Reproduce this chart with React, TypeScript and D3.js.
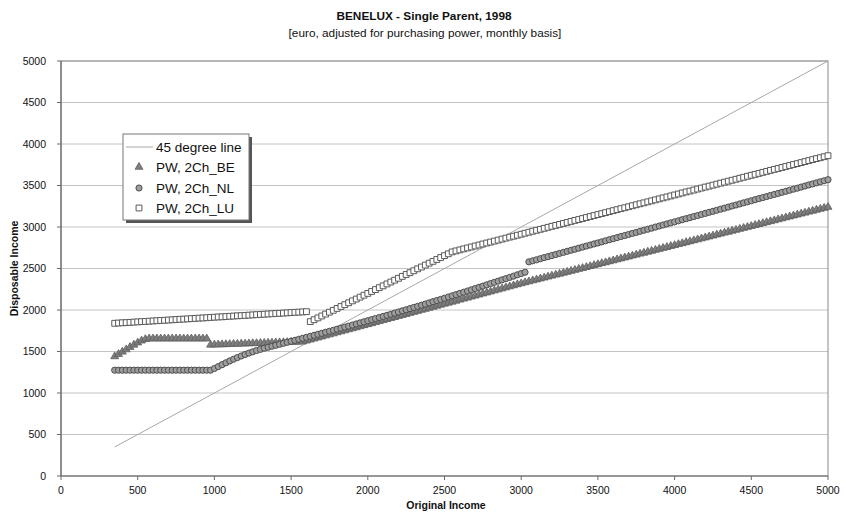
import React from "react";
import * as d3 from "d3";

// Original income grid (euro, monthly) – every 25 from 350 to 5000
const INCOME = d3.range(350, 5001, 25);

const BE = [
  1440, 1468, 1496, 1524, 1552, 1580, 1606, 1630, 1648,
  1655, 1655, 1655, 1655, 1655, 1655, 1655, 1655, 1655, 1655, 1655, 1655, 1655, 1655, 1655, 1655,
  1580, 1582, 1583, 1585, 1586, 1588, 1590, 1591, 1593, 1594, 1596, 1598, 1599, 1601, 1602, 1604, 1606, 1607, 1609, 1610, 1612, 1614, 1615, 1617, 1618,
  1630, 1642, 1655, 1667, 1679, 1692, 1704, 1716, 1729, 1741, 1753, 1766, 1778, 1790, 1802, 1815, 1827, 1839, 1852, 1864, 1876, 1889, 1901, 1913, 1926, 1938, 1950, 1963, 1975, 1987, 2000, 2012, 2024, 2037, 2049, 2061, 2074, 2086, 2098, 2110, 2123, 2135, 2147, 2160, 2172, 2184, 2197, 2209, 2221, 2234, 2246, 2258, 2271, 2283, 2295, 2308, 2320,
  2332, 2343, 2355, 2366, 2378, 2389, 2401, 2412, 2424, 2435, 2447, 2458, 2470, 2481, 2493, 2504, 2516, 2527, 2539, 2550, 2562, 2573, 2585, 2596, 2608, 2619, 2631, 2642, 2654, 2665, 2677, 2688, 2700, 2711, 2723, 2734, 2746, 2757, 2769, 2780, 2792, 2803, 2815, 2826, 2838, 2849, 2861, 2872, 2884, 2895, 2907, 2918, 2930, 2941, 2953, 2964, 2976, 2987, 2999, 3010, 3022, 3033, 3045, 3056, 3068, 3079, 3091, 3102, 3114, 3125, 3137, 3148, 3160, 3171, 3183, 3194, 3206, 3217, 3229, 3240,
];

const NL = [
  1275, 1275, 1275, 1275, 1275, 1275, 1275, 1275, 1275, 1275, 1275, 1275, 1275, 1275, 1275, 1275, 1275, 1275, 1275, 1275, 1275, 1275, 1275, 1275, 1275, 1275,
  1295, 1318, 1341, 1364, 1386, 1407, 1427, 1446, 1464, 1481, 1497, 1512, 1526, 1539, 1551, 1563, 1575, 1587, 1599, 1611, 1623, 1635, 1647, 1659, 1671,
  1683, 1695, 1707, 1719, 1732, 1744, 1756, 1769, 1781, 1794, 1806, 1819, 1832, 1845, 1858, 1871, 1884, 1897, 1910, 1923, 1936, 1949, 1963, 1976, 1990, 2003, 2017, 2031, 2044, 2058, 2072, 2086, 2100, 2114, 2128, 2142, 2157, 2171, 2185, 2200, 2214, 2229, 2243, 2258, 2273, 2288, 2303, 2318, 2333, 2348, 2363, 2378, 2393, 2408, 2424, 2439, 2455,
  2580, 2593, 2605, 2618, 2631, 2643, 2656, 2669, 2682, 2694, 2707, 2720, 2732, 2745, 2758, 2770, 2783, 2796, 2808, 2821, 2834, 2847, 2859, 2872, 2885, 2897, 2910, 2923, 2935, 2948, 2961, 2973, 2986, 2999, 3012, 3024, 3037, 3050, 3062, 3075, 3088, 3100, 3113, 3126, 3138, 3151, 3164, 3177, 3189, 3202, 3215, 3227, 3240, 3253, 3265, 3278, 3291, 3303, 3316, 3329, 3342, 3354, 3367, 3380, 3392, 3405, 3418, 3430, 3443, 3456, 3468, 3481, 3494, 3507, 3519, 3532, 3545, 3557, 3570,
];

const LU = [
  1840, 1843, 1846, 1848, 1851, 1854, 1857, 1860, 1862, 1865, 1868, 1871, 1874, 1876, 1879, 1882, 1885, 1888, 1890, 1893, 1896, 1899, 1902, 1904, 1907, 1910, 1913, 1916, 1918, 1921, 1924, 1927, 1930, 1932, 1935, 1938, 1941, 1944, 1946, 1949, 1952, 1955, 1958, 1960, 1963, 1966, 1969, 1972, 1974, 1977, 1980,
  1860, 1883, 1905, 1928, 1951, 1974, 1996, 2019, 2042, 2064, 2087, 2110, 2132, 2155, 2178, 2200, 2223, 2246, 2269, 2291, 2314, 2337, 2359, 2382, 2405, 2428, 2450, 2473, 2496, 2518, 2541, 2564, 2586, 2609, 2632, 2655, 2677, 2700,
  2712, 2724, 2736, 2748, 2759, 2771, 2783, 2795, 2807, 2818, 2830, 2842, 2854, 2866, 2878, 2889, 2901, 2913, 2925, 2937, 2949, 2960, 2972, 2984, 2996, 3008, 3019, 3031, 3043, 3055, 3067, 3079, 3090, 3102, 3114, 3126, 3138, 3150, 3161, 3173, 3185, 3197, 3209, 3221, 3232, 3244, 3256, 3268, 3280, 3291, 3303, 3315, 3327, 3339, 3351, 3362, 3374, 3386, 3398, 3410, 3422, 3433, 3445, 3457, 3469, 3481, 3492, 3504, 3516, 3528, 3540, 3552, 3563, 3575, 3587, 3599, 3611, 3623, 3634, 3646, 3658, 3670, 3682, 3694, 3705, 3717, 3729, 3741, 3753, 3764, 3776, 3788, 3800, 3812, 3824, 3835, 3847, 3859,
];

const LINE45 = [350, 5000];
const X_TICKS = [0, 500, 1000, 1500, 2000, 2500, 3000, 3500, 4000, 4500, 5000];
const Y_TICKS = [0, 500, 1000, 1500, 2000, 2500, 3000, 3500, 4000, 4500, 5000];
const LEGEND = ["45 degree line", "PW, 2Ch_BE", "PW, 2Ch_NL", "PW, 2Ch_LU"];

const TITLE = "BENELUX - Single Parent, 1998";
const SUBTITLE = "[euro, adjusted for purchasing power, monthly basis]";

const FONT = "'Liberation Sans', Arial, Helvetica, sans-serif";

const W = 846, H = 512;
const L = 61, R = 828, T = 61, B = 476;

const x = d3.scaleLinear().domain([0, 5000]).range([L, R]);
const y = d3.scaleLinear().domain([0, 5000]).range([B, T]);

const triPath = d3.symbol(d3.symbolTriangle, 27)()!;
const circPath = d3.symbol(d3.symbolCircle, 30)()!;
const sqPath = d3.symbol(d3.symbolSquare, 34)()!;

type MarkerKind = "tri" | "circ" | "sq";
const STYLE: Record<MarkerKind, { d: string; fill: string; stroke: string; sw: number }> = {
  tri: { d: triPath, fill: "#7e7e7e", stroke: "#5e5e5e", sw: 0.8 },
  circ: { d: circPath, fill: "#9e9e9e", stroke: "#4e4e4e", sw: 1 },
  sq: { d: sqPath, fill: "#ffffff", stroke: "#5a5a5a", sw: 1 },
};

function Marker({ kind, cx, cy }: { kind: MarkerKind; cx: number; cy: number }) {
  const s = STYLE[kind];
  return (
    <path d={s.d} transform={`translate(${cx},${cy})`} fill={s.fill} stroke={s.stroke} strokeWidth={s.sw} />
  );
}

function Series({ values, kind }: { values: number[]; kind: MarkerKind }) {
  const n = Math.min(values.length, INCOME.length);
  const pts = [];
  for (let i = 0; i < n; i++) {
    pts.push(<Marker key={i} kind={kind} cx={x(INCOME[i])} cy={y(values[i])} />);
  }
  return <g>{pts}</g>;
}

export default function App() {
  const line45 = d3.line<number>().x((v) => x(v)).y((v) => y(v))(LINE45)!;
  const legX = 123, legY = 134, legW = 126, legH = 86;
  const rowY = [147, 167, 188, 208];
  return (
    <svg width={W} height={H} style={{ position: "absolute", left: 0, top: 0, background: "#fff" }} fontFamily={FONT}>
      <rect x={0} y={0} width={W} height={H} fill="#fff" />
      {/* titles */}
      <text x={424} y={20} textAnchor="middle" fontWeight="bold" fontSize={11.8} fill="#111">{TITLE}</text>
      <text x={425} y={37} textAnchor="middle" fontSize={11.8} fill="#111">{SUBTITLE}</text>

      {/* gridlines */}
      {Y_TICKS.filter((t) => t > 0).map((t) => (
        <line key={t} x1={L} x2={R} y1={y(t)} y2={y(t)} stroke="#c4c4c4" strokeWidth={1} />
      ))}
      {/* plot border */}
      <rect x={L} y={T} width={R - L} height={B - T} fill="none" stroke="#8a8a8a" strokeWidth={1} />
      <line x1={L} x2={R} y1={B} y2={B} stroke="#6a6a6a" strokeWidth={1.2} />
      <line x1={L} x2={L} y1={T} y2={B} stroke="#6a6a6a" strokeWidth={1.2} />

      {/* ticks */}
      {Y_TICKS.map((t) => (
        <g key={t}>
          <line x1={L - 4} x2={L} y1={y(t)} y2={y(t)} stroke="#6a6a6a" />
          <text x={L - 15} y={y(t)} dy="0.35em" textAnchor="end" fontSize={10.5} fill="#111">{t}</text>
        </g>
      ))}
      {X_TICKS.map((t) => (
        <g key={t}>
          <line x1={x(t)} x2={x(t)} y1={B} y2={B + 4} stroke="#6a6a6a" />
          <text x={x(t)} y={B + 14} dy="0.35em" textAnchor="middle" fontSize={10.5} fill="#111">{t}</text>
        </g>
      ))}

      {/* axis titles */}
      <text x={446} y={509} textAnchor="middle" fontWeight="bold" fontSize={10.5} fill="#111">Original Income</text>
      <text transform={`translate(18,${(T + B) / 2}) rotate(-90)`} textAnchor="middle" fontWeight="bold" fontSize={10.5} fill="#111">Disposable Income</text>

      {/* 45 degree line */}
      <path d={line45} stroke="#a8a8a8" strokeWidth={1} fill="none" />

      {/* series */}
      <Series values={BE} kind="tri" />
      <Series values={NL} kind="circ" />
      <Series values={LU} kind="sq" />

      {/* legend */}
      <rect x={legX + 3} y={legY + 3} width={legW} height={legH} fill="#555" />
      <rect x={legX} y={legY} width={legW} height={legH} fill="#fff" stroke="#777" strokeWidth={1} />
      <line x1={legX + 3} x2={legX + 30} y1={rowY[0]} y2={rowY[0]} stroke="#a8a8a8" strokeWidth={1} />
      <Marker kind="tri" cx={legX + 16} cy={rowY[1]} />
      <Marker kind="circ" cx={legX + 16} cy={rowY[2]} />
      <Marker kind="sq" cx={legX + 16} cy={rowY[3]} />
      {LEGEND.map((s, i) => (
        <text key={s} x={legX + 33} y={rowY[i]} dy="0.35em" fontSize={13.5} fill="#111">{s}</text>
      ))}
    </svg>
  );
}
